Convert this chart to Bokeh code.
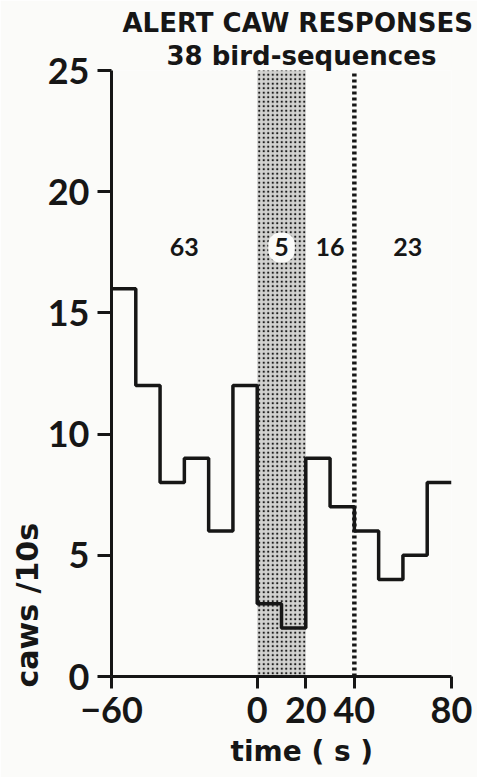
import numpy as np
from bokeh.plotting import figure
from bokeh.models import FixedTicker, Title, ColumnDataSource
from bokeh.core.properties import value
from bokeh.embed import file_html
from bokeh.resources import INLINE

# ---- data ----
bin_edges = [-60, -50, -40, -30, -20, -10, 0, 10, 20, 30, 40, 50, 60, 70, 80]
caws_per_10s = [16, 12, 8, 9, 6, 12, 3, 2, 9, 7, 6, 4, 5, 8]
x_ticks = [-60, 0, 20, 40, 80]
y_ticks = [0, 5, 10, 15, 20, 25]
stimulus = [0, 20]          # shaded playback period (s)
marker_time = 40            # dotted line (s)
count_labels = ["63", "5", "16", "23"]
count_x = [-30, 10, 30, 62]
count_y = [17.7, 17.7, 17.7, 17.7]
title_text = "ALERT CAW RESPONSES"
subtitle_text = "38 bird-sequences"
x_label = "time ( s )"
y_label = "caws /10s"

FONT = "Lato"
TFONT = "DejaVu Sans"
INK = "#161616"
BG = "#fbfbf9"

p = figure(width=477, height=777, x_range=(-60, 80), y_range=(0, 25),
           output_backend="svg", toolbar_location=None,
           min_border_left=111, min_border_right=26,
           min_border_top=70, min_border_bottom=101,
           background_fill_color=BG, border_fill_color=BG)
p.outline_line_color = None
p.grid.visible = False

# shaded stimulus period (stippled)
p.quad(left=[stimulus[0]], right=[stimulus[1]], bottom=[0], top=[26],
       fill_color="#d2d2d0", line_color=None,
       hatch_pattern="dot", hatch_color="#111111", hatch_scale=4.5,
       hatch_weight=3.5, hatch_alpha=0.95)

# dotted marker line
p.segment(x0=[marker_time], y0=[0], x1=[marker_time], y1=[25],
          line_color=INK, line_width=4.5, line_dash="3 3")

# histogram
p.step(x=bin_edges, y=caws_per_10s + [caws_per_10s[-1]], mode="after",
       line_color=INK, line_width=3.5)

# counts per period
src = ColumnDataSource(dict(x=count_x, y=count_y, t=count_labels,
                            bga=[0.0 if t != "5" else 1.0 for t in count_labels]))
p.text(x="x", y="y", text="t", source=src, text_font=value(FONT),
       text_font_size="25px", text_font_style="bold", text_color=INK,
       text_align="center", text_baseline="middle",
       background_fill_color=BG, background_fill_alpha="bga",
       padding=6, border_radius=12)

# axes
for ax in (p.xaxis[0], p.yaxis[0]):
    ax.axis_line_width = 3
    ax.axis_line_color = INK
    ax.major_tick_line_width = 3
    ax.major_tick_line_color = INK
    ax.minor_tick_line_color = None
    ax.major_tick_in = 0
    ax.major_label_text_font = FONT
    ax.major_label_text_font_size = "36px"
    ax.major_label_text_font_style = "bold"
    ax.major_label_text_color = INK

p.xaxis.ticker = FixedTicker(ticks=x_ticks)
p.xaxis.major_label_overrides = {-60: "\u221260"}
p.xaxis.major_tick_out = 12
p.xaxis.major_label_standoff = 8
p.yaxis.ticker = FixedTicker(ticks=y_ticks)
p.yaxis.major_tick_out = 14
p.yaxis.major_label_standoff = 8

# main title (outermost) and subtitle (next to the frame)
p.title.text = title_text
p.title.text_font = TFONT
p.title.text_font_size = "26px"
p.title.text_font_style = "bold"
p.title.text_color = INK
p.title.align = "left"
p.title.offset = 11
p.title.standoff = 2

p.add_layout(Title(text=subtitle_text, text_font=TFONT, text_font_size="26px",
                   text_font_style="bold", text_color=INK, align="left",
                   offset=55, standoff=0), "above")

# axis labels as side titles
p.add_layout(Title(text=x_label, text_font=TFONT, text_font_size="28px",
                   text_font_style="bold", text_color=INK, align="left",
                   offset=119, standoff=14), "below")
p.add_layout(Title(text=y_label, text_font=TFONT, text_font_size="30px",
                   text_font_style="bold", text_color=INK, align="left",
                   offset=-11, standoff=0), "left")

open("out.html", "w").write(file_html(p, INLINE))
